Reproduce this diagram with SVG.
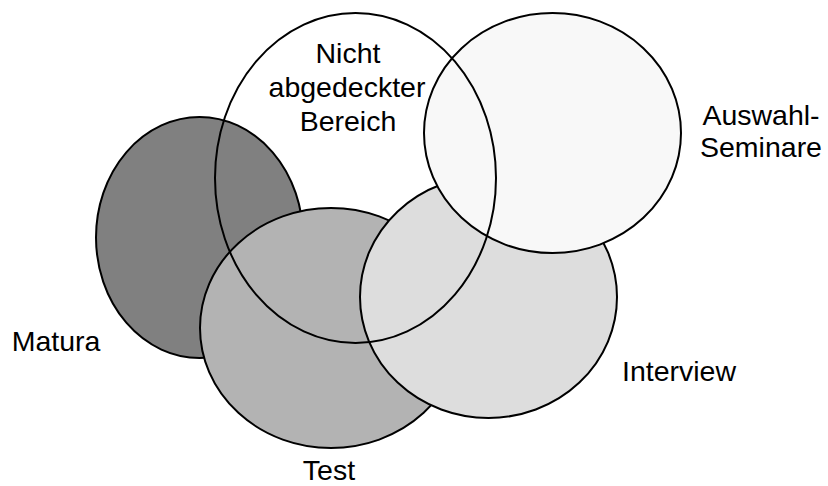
<svg xmlns="http://www.w3.org/2000/svg" width="828" height="486" viewBox="0 0 828 486">
<style>
.e{stroke:#000;stroke-width:2}
.t{font-family:"Liberation Sans",Arial,sans-serif;font-size:28.5px;fill:#000}
</style>
<rect width="828" height="486" fill="#fff"/>
<g id="matura"><ellipse class="e" cx="199.5" cy="237.5" rx="103.5" ry="120.5" fill="#808080"/></g>
<g id="test"><ellipse class="e" cx="331" cy="328" rx="131" ry="120" fill="#b3b3b3"/></g>
<g id="interview"><ellipse class="e" cx="488.5" cy="297" rx="128.5" ry="121" fill="#dddddd"/></g>
<g id="auswahl"><ellipse class="e" cx="552.5" cy="133" rx="128.5" ry="120" fill="#f8f8f8"/></g>
<g id="nicht"><ellipse class="e" cx="355.5" cy="178" rx="140.5" ry="165" fill="none"/></g>
<g id="labels">
<text class="t" x="348" y="63" text-anchor="middle">Nicht</text>
<text class="t" x="347" y="97" text-anchor="middle">abgedeckter</text>
<text class="t" x="348" y="131" text-anchor="middle">Bereich</text>
<text class="t" x="761" y="125" text-anchor="middle">Auswahl-</text>
<text class="t" x="761" y="157" text-anchor="middle">Seminare</text>
<text class="t" x="56" y="351" text-anchor="middle">Matura</text>
<text class="t" x="679" y="381" text-anchor="middle">Interview</text>
<text class="t" x="329" y="480" text-anchor="middle">Test</text>
</g>
</svg>
